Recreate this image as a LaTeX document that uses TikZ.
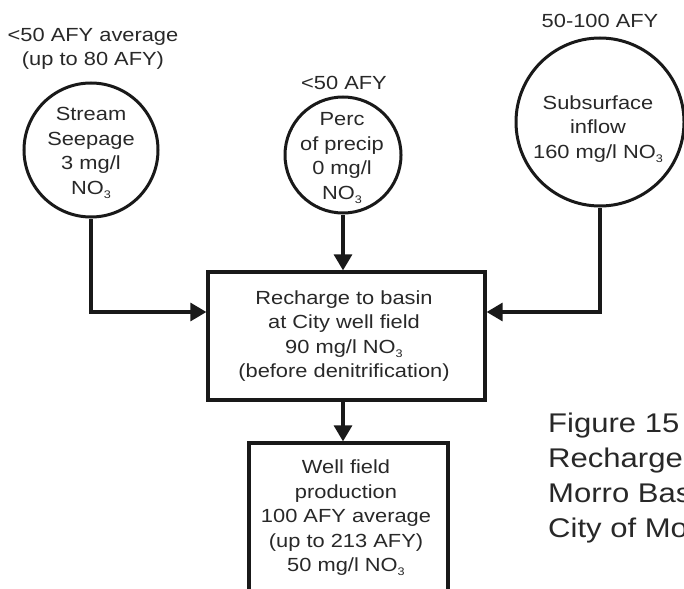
\documentclass[tikz,border=0pt]{standalone}
\usepackage{fontspec}
\setmainfont{Liberation Sans}[FakeStretch=1.15]
\usetikzlibrary{arrows.meta}
\definecolor{ink}{RGB}{25,25,25}
\definecolor{txt}{RGB}{40,40,40}
\newcommand\nothree{NO\raisebox{-4pt}{\fontsize{11}{11}\selectfont 3}}
\tikzset{
  diag/.style={font=\fontsize{19}{24.5}\selectfont, text=txt, align=center, inner sep=0pt},
  capt/.style={font=\fontsize{27}{35}\selectfont, text=txt, anchor=base west, inner sep=0pt},
  src/.style={circle, draw=ink, line width=3pt, inner sep=0pt},
  blk/.style={rectangle, draw=ink, line width=3.3pt, inner sep=0pt},
  conn/.style={draw=ink, line width=3.3pt},
  arr/.style={conn, -{Triangle[length=16pt,width=18pt]}}
}
\begin{document}
\begin{tikzpicture}[x=1pt,y=-1pt]
\useasboundingbox (0,0) rectangle (684,588);
\clip (0,0) rectangle (684,588);
% source circles
\node[src, minimum size=134pt] (stream) at (91,150) {};
\node[src, minimum size=116pt] (perc) at (343,155) {};
\node[src, minimum size=168pt] (sub) at (600,122) {};
% boxes
\node[blk, minimum width=277pt, minimum height=128pt] (box) at (346.5,336) {};
\node[blk, minimum width=199pt, minimum height=180pt] (well) at (348.5,533) {};
% texts
\node[diag] (streamlab) at (93,49) {<50 AFY average\\(up to 80 AFY)};
\node[diag] (streamtxt) at (91,153) {Stream\\Seepage\\3 mg/l\\\nothree};
\node[diag] (perclab) at (344,83) {<50 AFY};
\node[diag] (perctxt) at (342,158) {Perc\\of precip\\0 mg/l\\\nothree};
\node[diag] (sublab) at (600,21) {50-100 AFY};
\node[diag] (subtxt) at (598,129) {Subsurface\\inflow\\160 mg/l \nothree};
\node[diag] (boxtxt) at (344,336) {Recharge to basin\\at City well field\\90 mg/l \nothree\\(before denitrification)};
\node[diag] (welltxt) at (346,518) {Well field\\production\\100 AFY average\\(up to 213 AFY)\\50 mg/l \nothree};
% caption (cut off at the right edge, as in the reference)
\node[capt] (cap1) at (548,432) {Figure 15};
\node[capt] (cap2) at (548,467) {Recharge};
\node[capt] (cap3) at (548,502) {Morro Bas};
\node[capt] (cap4) at (548,537) {City of Mo};
% connectors
\draw[arr] (stream.south) |- ([yshift=24pt]box.west);
\draw[arr] (sub.south) |- ([yshift=24pt]box.east);
\draw[arr] (perc.south) -- (perc.south |- box.north);
\draw[arr] (perc.south |- box.south) -- (perc.south |- well.north);
\end{tikzpicture}
\end{document}
